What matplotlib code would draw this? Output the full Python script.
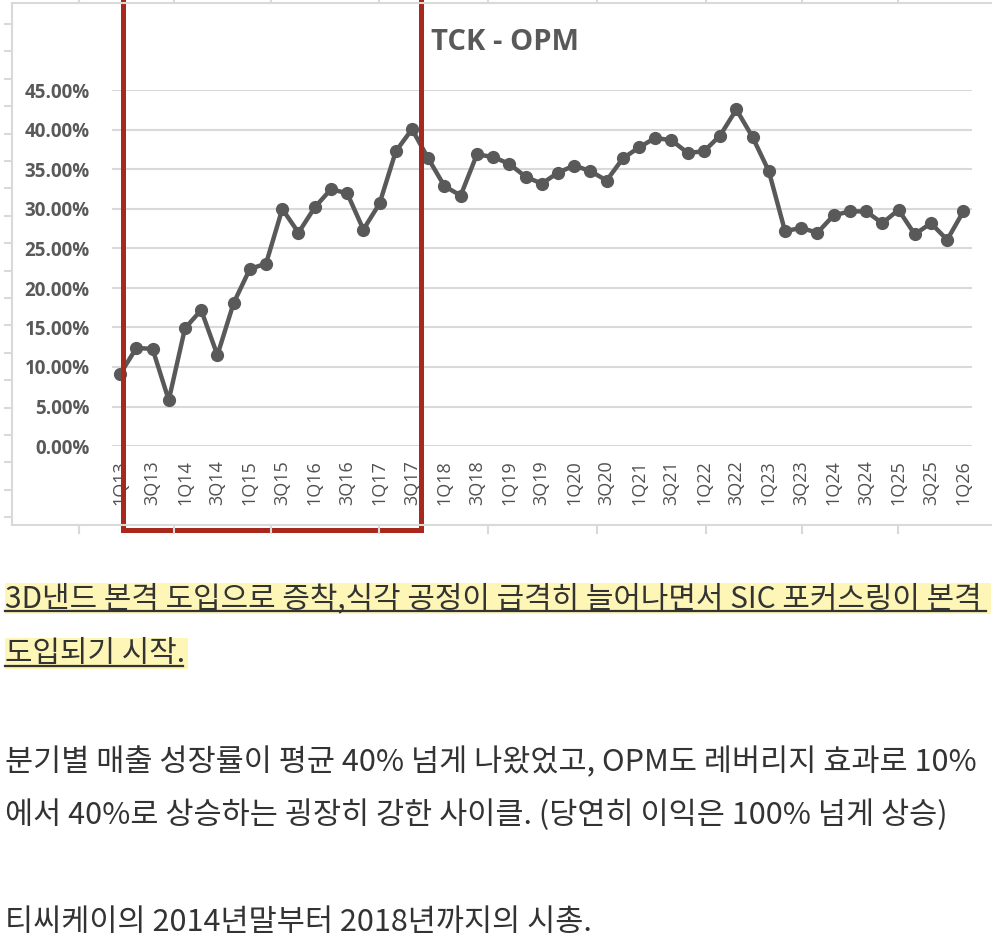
import matplotlib
matplotlib.use('Agg')
import matplotlib.pyplot as plt
from matplotlib.patches import Rectangle
from matplotlib.ticker import FuncFormatter
import numpy as np

# quarterly operating margin of TCK (%)
quarters = ['1Q13', '2Q13', '3Q13', '4Q13',
            '1Q14', '2Q14', '3Q14', '4Q14',
            '1Q15', '2Q15', '3Q15', '4Q15',
            '1Q16', '2Q16', '3Q16', '4Q16',
            '1Q17', '2Q17', '3Q17', '4Q17',
            '1Q18', '2Q18', '3Q18', '4Q18',
            '1Q19', '2Q19', '3Q19', '4Q19',
            '1Q20', '2Q20', '3Q20', '4Q20',
            '1Q21', '2Q21', '3Q21', '4Q21',
            '1Q22', '2Q22', '3Q22', '4Q22',
            '1Q23', '2Q23', '3Q23', '4Q23',
            '1Q24', '2Q24', '3Q24', '4Q24',
            '1Q25', '2Q25', '3Q25', '4Q25',
            '1Q26']
opm = [9.1, 12.4, 12.3, 5.8,
       14.9, 17.2, 11.5, 18.1,
       22.4, 23.1, 30.0, 27.0,
       30.2, 32.5, 32.0, 27.4,
       30.7, 37.3, 40.1, 36.4,
       32.9, 31.7, 36.9, 36.6,
       35.7, 34.1, 33.2, 34.6,
       35.5, 34.8, 33.6, 36.4,
       37.8, 39.0, 38.7, 37.1,
       37.3, 39.3, 42.6, 39.1,
       34.8, 27.2, 27.6, 27.0,
       29.2, 29.7, 29.7, 28.2,
       29.9, 26.8, 28.2, 26.1,
       29.7]
yticks = [0, 5, 10, 15, 20, 25, 30, 35, 40, 45]
title = 'TCK - OPM'

para1 = ['3D낸드 본격 도입으로 증착,식각 공정이 급격히 늘어나면서 SIC 포커스링이 본격 ',
         '도입되기 시작.']
para2 = ['분기별 매출 성장률이 평균 40% 넘게 나왔었고, OPM도 레버리지 효과로 10%',
         '에서 40%로 상승하는 굉장히 강한 사이클. (당연히 이익은 100% 넘게 상승)']
para3 = ['티씨케이의 2014년말부터 2018년까지의 시총.']

W, H = 992, 942
gray = '#595959'
grid_c = '#D9D9D9'
red = '#A8281E'
ink = '#333333'
hl = '#FDF6B6'

plt.rcParams['font.family'] = ['Open Sans', 'DejaVu Sans']

fig = plt.figure(figsize=(W / 100, H / 100), dpi=100)
fig.patch.set_facecolor('white')

# chart area (pixel layout of the screenshot)
left, right, top, bottom = 112, 971.5, 90.5, 446
ax = fig.add_axes([left / W, 1 - bottom / H, (right - left) / W, (bottom - top) / H])
x = np.arange(len(quarters))
ax.plot(x, opm, color=gray, lw=3.2, marker='o', ms=8.5, zorder=3)
ax.set_xlim(-0.5, len(quarters) - 0.5)
ax.set_ylim(0, 45)
ax.set_yticks(yticks)
ax.yaxis.set_major_formatter(FuncFormatter(lambda v, p: f'{v:.2f}%'))
ax.set_xticks(x[::2])
ax.set_xticklabels(quarters[::2], rotation=90, fontsize=13, color='#505050', va='top')
for lab in ax.get_yticklabels():
    lab.set_fontweight('bold')
    lab.set_fontsize(13.5)
    lab.set_color(gray)
ax.tick_params(axis='y', length=0, pad=16)
ax.tick_params(axis='x', length=0, pad=10)
ax.grid(axis='y', color=grid_c, lw=1.5)
ax.set_axisbelow(True)
for s in ax.spines.values():
    s.set_visible(False)

# overlay in screenshot pixels for frame, box and text
ov = fig.add_axes([0, 0, 1, 1], zorder=5)
ov.set_xlim(0, W)
ov.set_ylim(H, 0)
ov.axis('off')
ov.patch.set_alpha(0)

ov.plot([12, 12], [3, 525], color=grid_c, lw=1.5)
ov.plot([12, W], [3, 3], color=grid_c, lw=1.5)
ov.plot([12, W], [525, 525], color=grid_c, lw=1.5)
for yy in np.arange(24, 520, 27.4):
    ov.plot([5, 12], [yy, yy], color=grid_c, lw=1.5)
for xx in [79, 174, 271, 379, 488, 597, 706, 802, 898]:
    ov.plot([xx, xx], [0, 3], color=grid_c, lw=1.5)
    ov.plot([xx, xx], [525, 533], color=grid_c, lw=1.5)

ov.text(505, 42, title, ha='center', va='center', fontsize=21,
        fontweight='bold', color=gray)

ov.add_patch(Rectangle((123, -10), 297.5, 540, fill=False, ec=red, lw=3.6))

kr = ['Noto Sans CJK KR', 'DejaVu Sans']
p1_texts = []
for line, base in zip(para1, [607, 662]):
    p1_texts.append(ov.text(5, base, line, ha='left', va='baseline',
                            fontsize=21.5, family=kr, color=ink, zorder=3))
for line, base in zip(para2, [771, 824]):
    ov.text(5, base, line, ha='left', va='baseline', fontsize=22,
            family=kr, color=ink)
for line, base in zip(para3, [931]):
    ov.text(5, base, line, ha='left', va='baseline', fontsize=22,
            family=kr, color=ink)

# highlight and underline for the first paragraph
fig.canvas.draw()
r = fig.canvas.get_renderer()
inv = ov.transData.inverted()
for t, base in zip(p1_texts, [607, 662]):
    bb = t.get_window_extent(r)
    x0 = inv.transform((bb.x0, 0))[0]
    x1 = inv.transform((bb.x1, 0))[0]
    ov.add_patch(Rectangle((x0, base - 24), x1 - x0 + 3, 31, fc=hl, ec='none', zorder=1))
    ov.plot([x0, x1 - 2], [base + 4, base + 4], color=ink, lw=1.6, zorder=4)

fig.savefig('out.png', dpi=100)
